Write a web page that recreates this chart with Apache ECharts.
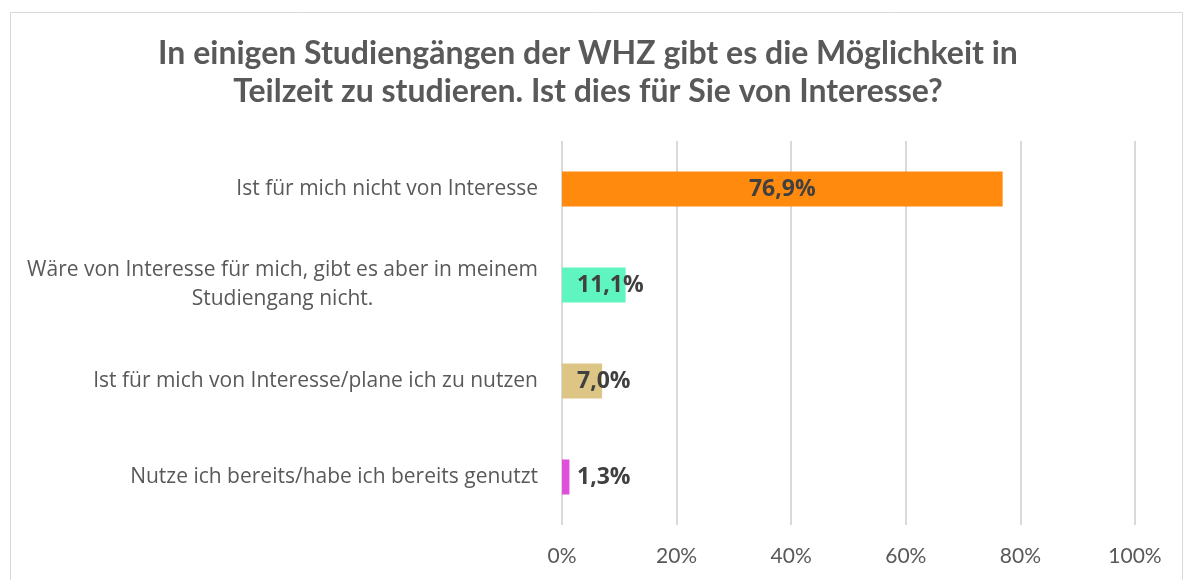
<!DOCTYPE html>
<html>
<head>
<meta charset="utf-8">
<script src="https://cdn.jsdelivr.net/npm/echarts@6/dist/echarts.min.js"></script>
<style>
  html, body { margin: 0; padding: 0; background: #fff; }
  #chart { width: 1185px; height: 580px; }
</style>
</head>
<body>
<div id="chart"></div>
<script>
// Antwortkategorien (von oben nach unten)
const categories = [
  'Ist für mich nicht von Interesse',
  'Wäre von Interesse für mich, gibt es aber in meinem\nStudiengang nicht.',
  'Ist für mich von Interesse/plane ich zu nutzen',
  'Nutze ich bereits/habe ich bereits genutzt'
]
const values = [76.9, 11.1, 7.0, 1.3]
const barColors = ['#FF8A0E', '#5EF5C0', '#DCC585', '#E04FD8']
const axisTicks = [0, 20, 40, 60, 80, 100]

const chart = echarts.init(document.getElementById('chart'))

const option = {
  backgroundColor: '#fff',
  animation: false,
  title: {
    text: 'In einigen Studiengängen der WHZ gibt es die Möglichkeit in\nTeilzeit zu studieren. Ist dies für Sie von Interesse?',
    left: 583,
    textAlign: 'center',
    top: 30,
    textStyle: {
      fontFamily: 'Lato',
      fontWeight: 'bold',
      fontSize: 32,
      lineHeight: 38,
      color: '#595959'
    }
  },
  graphic: [
    {
      type: 'rect',
      shape: { x: 10.5, y: 12.5, width: 1172, height: 600 },
      style: { fill: 'none', stroke: '#D9D9D9', lineWidth: 1 },
      silent: true
    }
  ],
  grid: {
    left: 562,
    right: 50,
    top: 141,
    bottom: 55
  },
  xAxis: {
    type: 'value',
    min: axisTicks[0],
    max: axisTicks[axisTicks.length - 1],
    interval: 20,
    axisLine: { show: false },
    axisTick: { show: false },
    splitLine: { lineStyle: { color: '#D9D9D9', width: 2 } },
    axisLabel: {
      formatter: '{value}%',
      fontFamily: 'Lato',
      fontSize: 21,
      color: '#595959',
      margin: 21
    }
  },
  yAxis: {
    type: 'category',
    data: categories,
    inverse: true,
    axisLine: { show: false },
    axisTick: { show: false },
    axisLabel: {
      margin: 24,
      formatter: function (v) {
        return v.split('\n').map(s => '{c|' + s + '}').join('\n')
      },
      rich: {
        c: {
          align: 'center',
          fontFamily: 'Open Sans',
          fontSize: 21,
          lineHeight: 29,
          color: '#595959'
        }
      }
    }
  },
  series: [
    {
      type: 'bar',
      barWidth: 35,
      data: values.map((v, i) => ({
        value: v,
        itemStyle: { color: barColors[i] },
        label: i === 0
          ? { position: 'inside' }
          : { position: 'insideLeft', distance: 15 }
      })),
      label: {
        show: true,
        formatter: p => p.value.toFixed(1).replace('.', ',') + '%',
        fontFamily: 'Open Sans',
        fontWeight: 'bold',
        fontSize: 23,
        color: '#404040'
      }
    }
  ]
}

chart.setOption(option)
</script>
</body>
</html>
